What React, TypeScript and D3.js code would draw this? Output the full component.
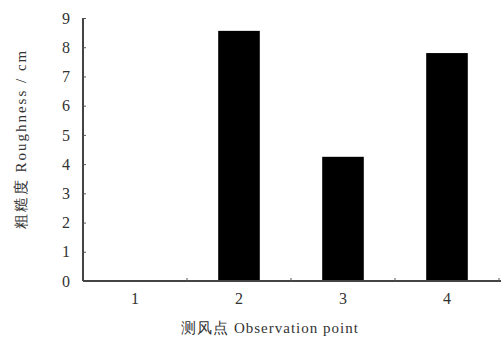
import React, { useEffect, useRef } from 'react';
import * as d3 from 'd3';

// observation points and roughness (cm)
const categories = ['1', '2', '3', '4'];
const roughness = [0, 8.56, 4.25, 7.8];
const yTicks = [0, 1, 2, 3, 4, 5, 6, 7, 8, 9];

const App = () => {
  const ref = useRef<SVGSVGElement>(null);

  useEffect(() => {
    const width = 501;
    const height = 341;
    const left = 83;
    const right = 499;
    const top = 18;
    const bottom = 281;
    const font = '"Liberation Serif", "DejaVu Serif", serif';

    const svg = d3.select(ref.current);
    svg.selectAll('*').remove();
    svg.attr('width', width).attr('height', height).style('background', '#fff');

    const x = d3.scaleBand().domain(categories).range([left, right]).padding(0);
    const y = d3.scaleLinear().domain([0, 9]).range([bottom, top]);
    const barWidth = x.bandwidth() * 0.4;

    // bars
    svg.append('g')
      .selectAll('rect')
      .data(roughness)
      .enter().append('rect')
      .attr('x', (d, i) => x(categories[i])! + (x.bandwidth() - barWidth) / 2)
      .attr('y', d => y(d))
      .attr('width', barWidth)
      .attr('height', d => bottom - y(d))
      .attr('fill', '#000');

    // y axis
    const yAxis = d3.axisLeft(y).tickValues(yTicks).tickSize(-3).tickPadding(13);
    const gy = svg.append('g')
      .attr('transform', 'translate(' + left + ',0)')
      .call(yAxis);
    gy.select('.domain').attr('stroke', '#444').attr('stroke-width', 2)
      .attr('d', 'M0,' + top + 'V' + bottom);
    gy.selectAll('.tick line').attr('stroke', '#555');
    gy.selectAll('.tick text')
      .attr('font-family', font)
      .attr('font-size', 16)
      .attr('fill', '#333');

    // x axis line and ticks between categories
    svg.append('line')
      .attr('x1', left).attr('x2', right + 2)
      .attr('y1', bottom).attr('y2', bottom)
      .attr('stroke', '#444').attr('stroke-width', 2);
    svg.append('g')
      .selectAll('line')
      .data(categories)
      .enter().append('line')
      .attr('x1', d => x(d)! + x.bandwidth())
      .attr('x2', d => x(d)! + x.bandwidth())
      .attr('y1', bottom)
      .attr('y2', bottom - 3)
      .attr('stroke', '#555');
    svg.append('g')
      .selectAll('text')
      .data(categories)
      .enter().append('text')
      .attr('x', d => x(d)! + x.bandwidth() / 2)
      .attr('y', bottom + 23)
      .attr('text-anchor', 'middle')
      .attr('font-family', font)
      .attr('font-size', 16)
      .attr('fill', '#333')
      .text(d => d);

    // axis titles
    svg.append('text')
      .attr('transform', 'translate(26,139) rotate(-90)')
      .attr('text-anchor', 'middle')
      .attr('font-family', font)
      .attr('font-size', 15)
      .attr('letter-spacing', 2)
      .attr('fill', '#333')
      .text('粗糙度 Roughness / cm');
    svg.append('text')
      .attr('x', 270)
      .attr('y', 333)
      .attr('text-anchor', 'middle')
      .attr('font-family', font)
      .attr('font-size', 15)
      .attr('letter-spacing', 1)
      .attr('fill', '#333')
      .text('测风点 Observation point');
  }, []);

  return (
    <svg ref={ref} style={{ position: 'absolute', left: 0, top: 0 }}></svg>
  );
};

export default App;
